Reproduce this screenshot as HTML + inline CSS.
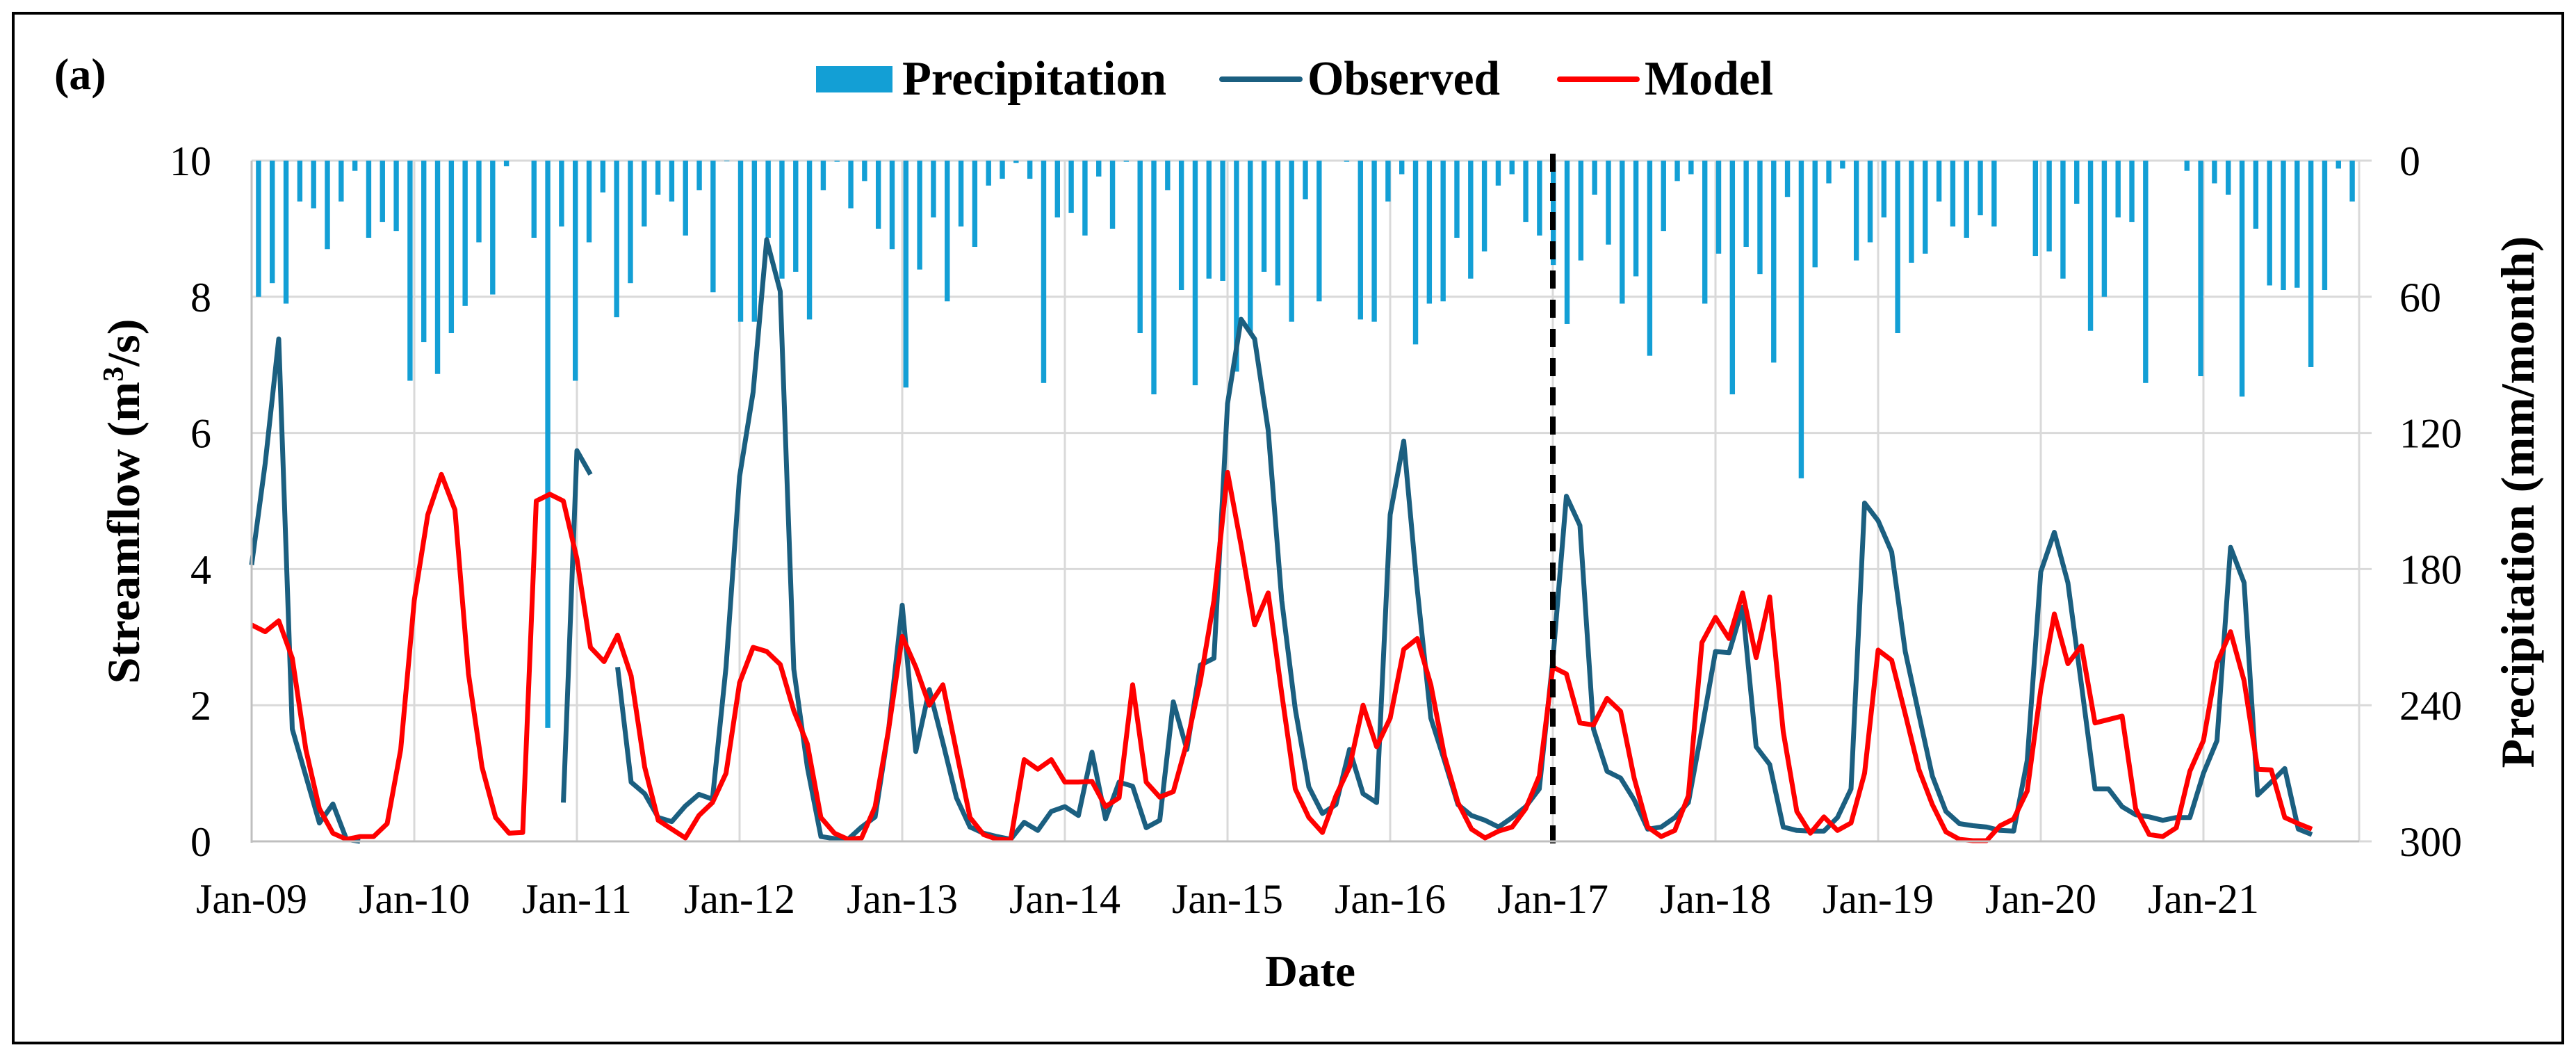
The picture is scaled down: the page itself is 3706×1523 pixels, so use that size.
<!DOCTYPE html>
<html><head><meta charset="utf-8"><style>
html,body{margin:0;padding:0;background:#fff;}
svg{display:block;font-family:"Liberation Serif",serif;}
</style></head><body>
<svg id="chart" width="3706" height="1523" viewBox="0 0 3706 1523" xmlns="http://www.w3.org/2000/svg">
<rect x="19" y="19" width="3668" height="1481" fill="#fff" stroke="#000" stroke-width="4"/>
<g id="grid"></g><g id="bars"></g><g id="lines"></g><g id="axes"></g>
<text x="78" y="128" font-size="64" font-weight="bold">(a)</text>
<g>
<rect x="1174" y="95" width="110" height="38" fill="#139fd5"/>
<text x="1298" y="136" font-size="70" font-weight="bold" textLength="380" lengthAdjust="spacingAndGlyphs">Precipitation</text>
<line x1="1758" y1="114" x2="1870" y2="114" stroke="#1b5f80" stroke-width="8" stroke-linecap="round"/>
<text x="1881" y="136" font-size="70" font-weight="bold" textLength="277" lengthAdjust="spacingAndGlyphs">Observed</text>
<line x1="2244" y1="114" x2="2355" y2="114" stroke="#ff0000" stroke-width="8" stroke-linecap="round"/>
<text x="2366" y="136" font-size="70" font-weight="bold" textLength="185" lengthAdjust="spacingAndGlyphs">Model</text>
</g>
<text transform="translate(200,721) rotate(-90)" text-anchor="middle" font-size="66" font-weight="bold" textLength="525" lengthAdjust="spacingAndGlyphs">Streamflow (m<tspan baseline-shift="super" font-size="42">3</tspan>/s)</text>
<text transform="translate(3645,722) rotate(-90)" text-anchor="middle" font-size="68" font-weight="bold" textLength="765" lengthAdjust="spacingAndGlyphs">Precipitation (mm/month)</text>
<text x="1885" y="1418" text-anchor="middle" font-size="64" font-weight="bold" textLength="130" lengthAdjust="spacingAndGlyphs">Date</text>
</svg>
<script>
const observed=[4.06,5.55,7.38,1.65,0.96,0.27,0.55,0.03,0.0,null,null,null,null,null,null,null,null,null,null,null,null,null,null,0.57,5.74,5.39,null,2.56,0.87,0.70,0.35,0.29,0.52,0.69,0.62,2.56,5.36,6.6,8.84,8.08,2.53,1.09,0.07,0.04,0.03,0.21,0.36,1.65,3.47,1.32,2.23,1.45,0.64,0.21,0.12,0.07,0.03,0.28,0.16,0.44,0.51,0.38,1.31,0.33,0.87,0.81,0.2,0.31,2.05,1.35,2.59,2.69,6.43,7.67,7.38,6.04,3.54,1.94,0.8,0.41,0.54,1.35,0.7,0.57,4.8,5.88,3.7,1.81,1.19,0.54,0.38,0.31,0.21,0.35,0.51,0.77,2.66,5.07,4.64,1.65,1.03,0.93,0.61,0.18,0.21,0.35,0.57,1.65,2.79,2.77,3.44,1.39,1.13,0.21,0.16,0.15,0.15,0.35,0.77,4.97,4.71,4.25,2.79,1.87,0.96,0.44,0.26,0.23,0.21,0.16,0.15,1.19,3.96,4.54,3.8,2.3,0.77,0.77,0.51,0.39,0.36,0.31,0.35,0.35,1.0,1.48,4.32,3.8,0.68,0.87,1.07,0.18,0.1];
const model=[3.18,3.08,3.24,2.69,1.35,0.48,0.12,0.03,0.07,0.07,0.26,1.35,3.54,4.8,5.39,4.87,2.46,1.09,0.35,0.12,0.13,5.0,5.1,5.0,4.15,2.85,2.64,3.03,2.43,1.09,0.31,0.18,0.05,0.38,0.57,1.0,2.33,2.85,2.79,2.6,1.92,1.43,0.35,0.12,0.03,0.05,0.51,1.65,3.01,2.56,2.0,2.3,1.32,0.35,0.1,0.03,0.02,1.2,1.06,1.2,0.87,0.87,0.88,0.51,0.64,2.3,0.87,0.65,0.73,1.45,2.36,3.54,5.42,4.35,3.18,3.65,2.17,0.77,0.35,0.13,0.67,1.09,2.0,1.39,1.81,2.82,2.98,2.3,1.26,0.57,0.18,0.05,0.15,0.21,0.48,0.96,2.56,2.46,1.74,1.71,2.1,1.91,0.93,0.21,0.07,0.16,0.67,2.92,3.29,2.98,3.65,2.7,3.59,1.61,0.44,0.12,0.36,0.16,0.27,1.0,2.81,2.66,1.87,1.06,0.54,0.14,0.03,0.01,0.01,0.23,0.33,0.74,2.23,3.34,2.61,2.87,1.74,1.79,1.84,0.48,0.1,0.07,0.2,1.03,1.48,2.62,3.08,2.36,1.06,1.05,0.35,0.26,0.18];
const precipitation=[60,54,63,18,21,39,18,4.5,34,27,31,97,80,94,76,64,36,59,2.5,0,34,250,29,97,36,14,69,54,29,15,18,33,13,58,0.3,71,71,34,52,49,70,13,0.5,21,9,30,39,100,48,25,62,29,38,11,8,1,8,98,25,23,33,7,30,0.5,76,103,13,57,99,52,53,93,76,49,55,71,17,62,0,0.5,70,71,18,6,81,63,62,34,52,40,11,6,27,33,46,72,44,15,37,63,51,86,31,9,6,63,41,103,38,50,89,16,140,47,10,3.5,44,36,25,76,45,41,18,29,34,24,29,0,0,42,40,52,19,75,60,25,27,98,0,0,4.5,95,10,15,104,30,55,57,56,91,57,3.5,18];
const yTicks=[0,2,4,6,8,10];
const y2Ticks=[0,60,120,180,240,300];
const xLabels=["Jan-09","Jan-10","Jan-11","Jan-12","Jan-13","Jan-14","Jan-15","Jan-16","Jan-17","Jan-18","Jan-19","Jan-20","Jan-21"];
const splitMonth=96;

const L=362,R=3394,T=231,B=1210,monthW=19.5;
const NS="http://www.w3.org/2000/svg";
const xm=i=>L+i*monthW;
const ys=v=>B-(v/10)*(B-T);
const yp=p=>T+(p/300)*(B-T);
const barW=(R-L)/precipitation.length;
const xb=k=>L+(k+0.5)*barW;
function mk(tag,attrs,parent){const e=document.createElementNS(NS,tag);for(const k in attrs)e.setAttribute(k,attrs[k]);parent.appendChild(e);return e;}
const grid=document.getElementById('grid'),bars=document.getElementById('bars'),lines=document.getElementById('lines'),axes=document.getElementById('axes');

yTicks.forEach(v=>{
  const g=mk('line',{x1:L,x2:R+18,y1:ys(v),y2:ys(v),stroke:'#d9d9d9','stroke-width':3},grid);
  
  
  const t=mk('text',{x:L-58,y:ys(v)+21,'text-anchor':'end','font-size':60},axes);
  t.textContent=v;
  
  
});
y2Ticks.forEach(p=>{
  const t=mk('text',{x:3452,y:yp(p)+21,'font-size':60},axes);
  t.textContent=p;
  
  
});
xLabels.forEach((s,j)=>{
  const x=xm(j*12);
  const g=mk('line',{x1:x,x2:x,y1:T,y2:B,stroke:'#d9d9d9','stroke-width':3},grid);
  
  
  const t=mk('text',{x:x,y:1313,'text-anchor':'middle','font-size':60},axes);
  t.textContent=s;
  
  
});
const rb=mk('line',{x1:R,x2:R,y1:T,y2:B,stroke:'#d9d9d9','stroke-width':3},grid);


const la=mk('line',{x1:L,x2:L,y1:T,y2:B+2,stroke:'#bfbfbf','stroke-width':3},axes);


const ba=mk('line',{x1:L,x2:R,y1:B,y2:B,stroke:'#bfbfbf','stroke-width':3},axes);



precipitation.forEach((p,k)=>{
  if(p<=0)return;
  const r=mk('rect',{x:xb(k)-3.7,y:T,width:7.4,height:yp(p)-T,fill:'#139fd5'},bars);
  
  
});

function pathOf(arr){let d='',pen=false;arr.forEach((v,i)=>{if(v===null){pen=false;return;}d+=(pen?'L':'M')+xm(i).toFixed(1)+' '+ys(v).toFixed(1)+' ';pen=true;});return d;}
const po=mk('path',{d:pathOf(observed),fill:'none',stroke:'#1b5f80','stroke-width':7,'stroke-linejoin':'round'},lines);


const pm=mk('path',{d:pathOf(model),fill:'none',stroke:'#ff0000','stroke-width':7,'stroke-linejoin':'round'},lines);


const sx=xm(splitMonth);
const dl=mk('line',{x1:sx,x2:sx,y1:T-10,y2:B+4,stroke:'#000','stroke-width':8,'stroke-dasharray':'26 16'},lines);


</script>
</body></html>
